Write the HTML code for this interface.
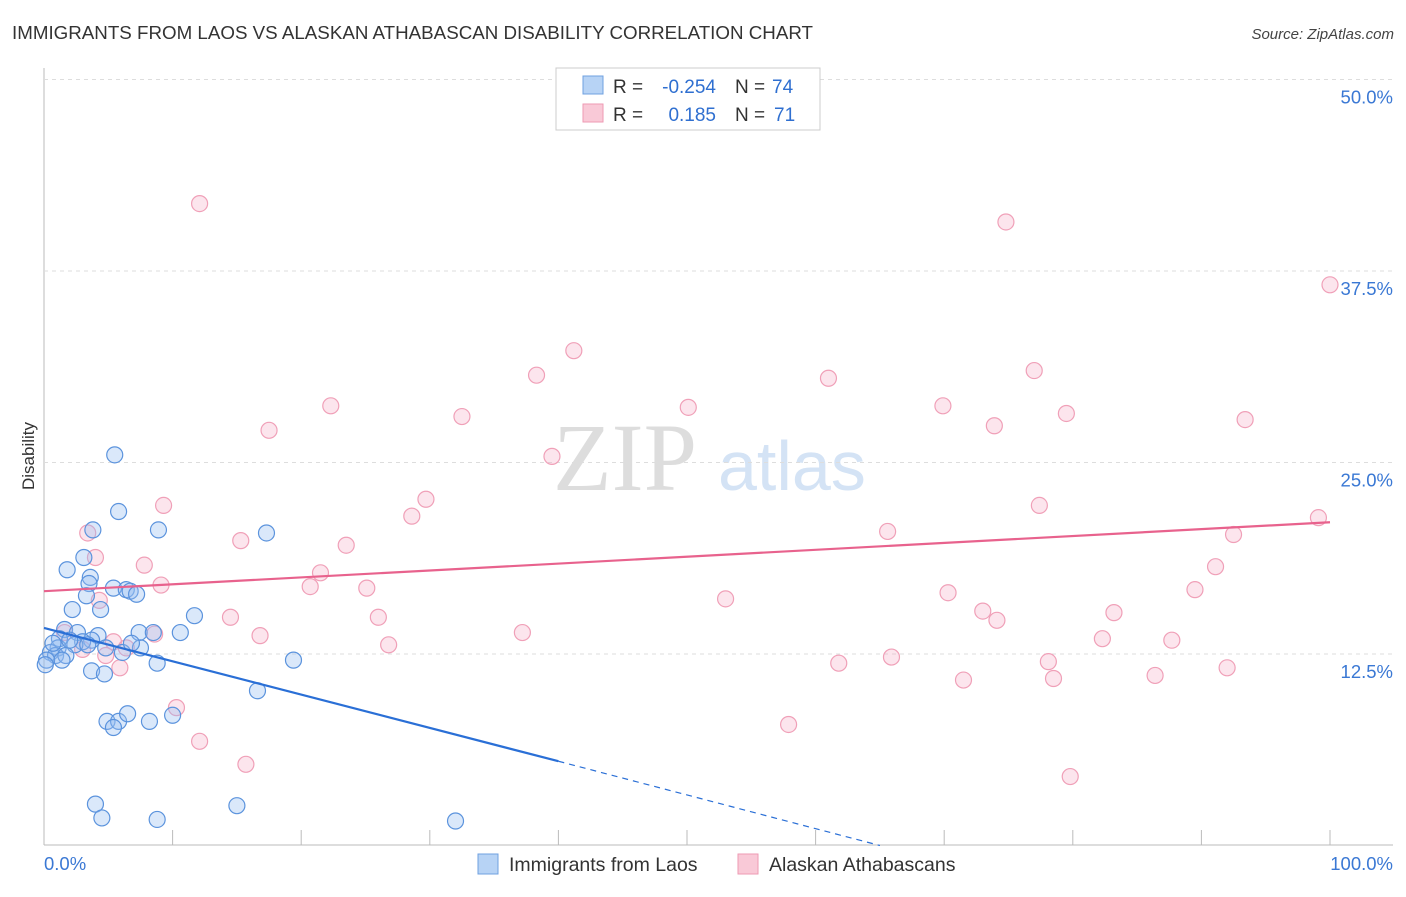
<!DOCTYPE html>
<html><head><meta charset="utf-8"><style>
body{margin:0;background:#fff;font-family:"Liberation Sans",sans-serif;}
</style></head><body>
<svg id="chart" width="1406" height="892" xmlns="http://www.w3.org/2000/svg" font-family="Liberation Sans, sans-serif">
<text x="12" y="39" font-size="18.5" fill="#333" textLength="801" lengthAdjust="spacingAndGlyphs">IMMIGRANTS FROM LAOS VS ALASKAN ATHABASCAN DISABILITY CORRELATION CHART</text>
<text x="1394" y="39" font-size="15" fill="#444" text-anchor="end" font-style="italic">Source: ZipAtlas.com</text>
<text x="553" y="490" font-size="96" fill="#ddd" font-family="Liberation Serif, serif">ZIP</text>
<text x="718" y="490" font-size="70" fill="#d4e3f5">atlas</text>
<text transform="translate(34,456) rotate(-90)" font-size="17" fill="#333" text-anchor="middle">Disability</text>
<g id="grid"></g><g id="pts"></g><g id="trend"></g>
<g>
<rect x="556" y="68" width="264" height="62" fill="#fff" stroke="#ccc"/>
<rect x="583" y="76" width="20" height="18" fill="#b7d3f5" stroke="#6fa0e0"/>
<rect x="583" y="104" width="20" height="18" fill="#f9c9d7" stroke="#ee9ab3"/>
<text y="93" font-size="19" fill="#333"><tspan x="613">R =</tspan><tspan x="716" text-anchor="end" fill="#2f6fd0">-0.254</tspan><tspan x="735">N =</tspan><tspan x="772" fill="#2f6fd0">74</tspan></text>
<text y="121" font-size="19" fill="#333"><tspan x="613">R =</tspan><tspan x="716" text-anchor="end" fill="#2f6fd0">0.185</tspan><tspan x="735">N =</tspan><tspan x="774" fill="#2f6fd0">71</tspan></text>
</g>
<g>
<rect x="478" y="854" width="20" height="20" fill="#b7d3f5" stroke="#6fa0e0"/>
<text x="509" y="871" font-size="19.5" fill="#333">Immigrants from Laos</text>
<rect x="738" y="854" width="20" height="20" fill="#f9c9d7" stroke="#ee9ab3"/>
<text x="769" y="871" font-size="19.5" fill="#333">Alaskan Athabascans</text>
</g>
</svg>
<script>
const yTicks=[12.5,25,37.5,50];
const yTickLabels=["12.5%","25.0%","37.5%","50.0%"];
const blueX=[5.5,5.8,3.8,8.9,17.3,3.1,1.8,3.6,3.5,5.4,6.4,6.7,7.2,3.3,2.2,4.4,11.7,10.6,7.4,8.5,1.6,2.6,4.2,3.7,3.0,2.4,1.2,1.1,0.5,0.9,0.2,0.1,1.7,4.8,6.1,7.5,6.8,8.8,19.4,3.7,4.7,16.6,4.9,5.8,5.4,6.5,8.2,10.0,4.0,4.5,8.8,15.0,32.0,0.7,2.0,1.4,3.4];
const blueY=[25.5,21.8,20.6,20.6,20.4,18.8,18.0,17.5,17.1,16.8,16.7,16.6,16.4,16.3,15.4,15.4,15.0,13.9,13.9,13.9,14.1,13.9,13.7,13.4,13.3,13.1,13.5,12.9,12.6,12.4,12.1,11.8,12.4,12.9,12.6,12.9,13.2,11.9,12.1,11.4,11.2,10.1,8.1,8.1,7.7,8.6,8.1,8.5,2.7,1.8,1.7,2.6,1.6,13.2,13.4,12.1,13.1];
const pinkX=[12.1,74.8,100,41.2,38.3,61.0,77.0,22.3,32.5,50.1,69.9,79.5,73.9,93.4,17.5,39.5,29.7,9.3,28.6,77.4,99.1,3.4,65.6,92.5,15.3,23.5,4.0,7.8,21.5,91.1,9.1,20.7,25.1,70.3,89.5,53.0,73.0,74.1,83.2,14.5,26.0,4.3,16.8,37.2,8.6,82.3,87.7,26.8,5.4,6.4,1.6,3.0,4.8,5.9,61.8,65.9,78.1,92.0,71.5,78.5,86.4,10.3,57.9,12.1,15.7,79.8];
const pinkY=[41.9,40.7,36.6,32.3,30.7,30.5,31.0,28.7,28.0,28.6,28.7,28.2,27.4,27.8,27.1,25.4,22.6,22.2,21.5,22.2,21.4,20.4,20.5,20.3,19.9,19.6,18.8,18.3,17.8,18.2,17.0,16.9,16.8,16.5,16.7,16.1,15.3,14.7,15.2,14.9,14.9,16.0,13.7,13.9,13.8,13.5,13.4,13.1,13.3,12.9,13.9,12.8,12.4,11.6,11.9,12.3,12.0,11.6,10.8,10.9,11.1,9.0,7.9,6.8,5.3,4.5];
const blueTrend=[[0,14.2],[40,5.5],[65,0]];
const pinkTrend=[[0,16.6],[100,21.1]];
const X=v=>44+v*12.86, Y=v=>845.5-v*15.32;
const NS="http://www.w3.org/2000/svg";
function mk(t,a,p){const e=document.createElementNS(NS,t);for(const k in a)e.setAttribute(k,a[k]);p.appendChild(e);return e;}
const g=document.getElementById('grid');
let ax=mk('line',{x1:44,y1:68,x2:44,y2:845,stroke:'#bbb'},g);

let bx=mk('line',{x1:44,y1:845,x2:1393,y2:845,stroke:'#bbb'},g);

yTicks.forEach((t,i)=>{
 const gl=mk('line',{x1:44,x2:1393,y1:Y(t),y2:Y(t),stroke:'#ddd','stroke-dasharray':'4,4'},g);
 
 const tx=mk('text',{x:1393,y:Y(t)+24,'font-size':18.5,fill:'#3a78d4','text-anchor':'end'},g);
 tx.textContent=yTickLabels[i];
 
});
for(let i=1;i<=10;i++){const tk=mk('line',{x1:X(i*10),x2:X(i*10),y1:830,y2:845,stroke:'#bbb'},g);
 }
[[44,'start','0.0%'],[1393,'end','100.0%']].forEach(a=>{const t=mk('text',{x:a[0],y:870,'font-size':18.5,fill:'#3a78d4','text-anchor':a[1]},g);t.textContent=a[2];
 });
const p=document.getElementById('pts');
pinkX.forEach((v,i)=>{const c=mk('circle',{cx:X(v),cy:Y(pinkY[i]),r:8,fill:'rgba(245,170,195,0.3)',stroke:'#f0a0b8','stroke-width':1.2},p);
 });
blueX.forEach((v,i)=>{const c=mk('circle',{cx:X(v),cy:Y(blueY[i]),r:8,fill:'rgba(150,190,240,0.35)',stroke:'#5b93dd','stroke-width':1.2},p);
 });
const tr=document.getElementById('trend');
let l1=mk('line',{x1:X(blueTrend[0][0]),y1:Y(blueTrend[0][1]),x2:X(blueTrend[1][0]),y2:Y(blueTrend[1][1]),stroke:'#2a6fd6','stroke-width':2.2},tr);

let l2=mk('line',{x1:X(blueTrend[1][0]),y1:Y(blueTrend[1][1]),x2:X(blueTrend[2][0]),y2:Y(blueTrend[2][1]),stroke:'#2a6fd6','stroke-width':1.2,'stroke-dasharray':'6,5'},tr);

let l3=mk('line',{x1:X(pinkTrend[0][0]),y1:Y(pinkTrend[0][1]),x2:X(pinkTrend[1][0]),y2:Y(pinkTrend[1][1]),stroke:'#e8628d','stroke-width':2.2},tr);

</script>
</body></html>
